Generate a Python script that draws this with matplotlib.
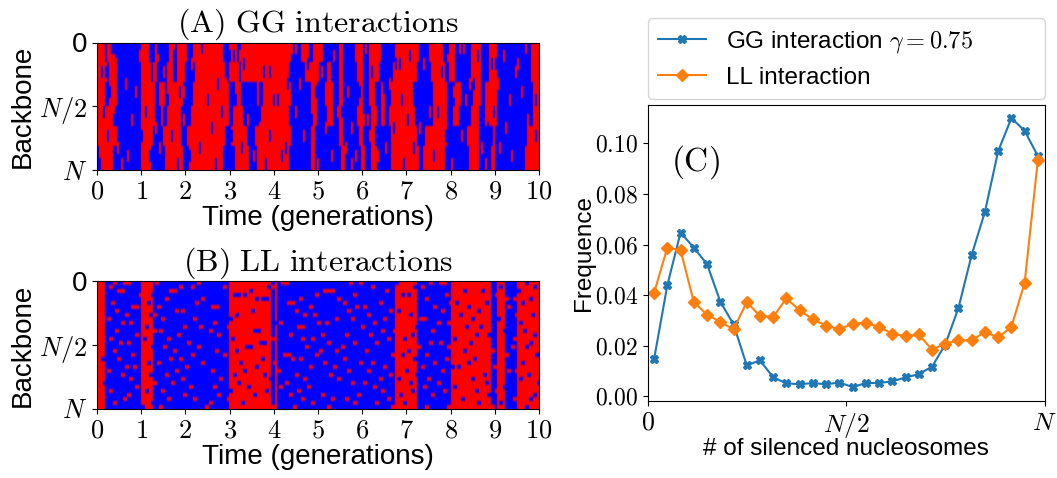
import matplotlib
matplotlib.use("Agg")
import matplotlib.pyplot as plt
import numpy as np
from matplotlib.colors import ListedColormap

plt.rcParams["font.family"] = ["Liberation Sans", "DejaVu Sans"]
plt.rcParams["mathtext.fontset"] = "cm"

W, H = 1057, 478
N_ROWS = 32
N_COLS = 221  # cells per panel, 22.1 per generation

# Panel A: red stretches (generations), six slices down the backbone
A_BAND1 = [(0, .18), (.24, .4), (1, 1.17), (1.3, 1.4), (1.65, 1.76), (1.8, 2.03), (2.18, 2.86),
           (2.97, 3.16), (3.24, 4.37), (4.63, 4.8), (4.87, 5.1), (5.47, 5.55), (5.85, 6.04),
           (6.15, 6.42), (6.72, 7.28), (7.5, 7.85), (7.93, 8.08), (8.45, 8.68), (8.87, 9.06), (9.8, 10)]
A_BAND2 = [(0, .22), (.27, .43), (1, 1.2), (1.26, 1.37), (1.6, 1.72), (1.82, 2.0), (2.2, 2.9),
           (3, 3.2), (3.27, 4.34), (4.7, 4.83), (4.84, 5.03), (5.2, 5.28), (5.47, 5.55), (5.9, 6.04),
           (6.15, 6.36), (6.68, 7.24), (7.55, 7.88), (7.95, 8.1), (8.48, 8.68), (8.85, 9.06), (9.84, 10)]
A_BAND3 = [(0, .2), (.25, .44), (1, 1.3), (1.42, 1.53), (1.6, 1.95), (2.15, 3), (3.1, 3.27),
           (3.6, 3.68), (3.75, 4.37), (4.83, 4.98), (5.17, 5.32), (5.47, 5.55), (5.93, 6.04),
           (6.15, 6.3), (6.42, 6.48), (6.64, 7.17), (7.6, 7.9), (8.1, 8.22), (8.5, 8.68),
           (8.8, 9.06), (9.88, 10)]
A_BAND4 = [(0, .16), (.2, .41), (1, 1.32), (1.45, 1.5), (1.58, 1.92), (2.12, 2.97), (3.06, 3.3),
           (3.7, 4.35), (4.85, 4.96), (5.2, 5.35), (5.47, 5.57), (5.9, 6.04), (6.18, 6.33),
           (6.44, 6.5), (6.62, 7.2), (7.58, 7.92), (8.05, 8.17), (8.45, 8.66), (8.78, 9.04), (9.85, 10)]
A_BAND5 = [(0, .4), (.42, .46), (1, 1.27), (1.5, 1.9), (2.05, 2.9), (3.05, 3.39), (3.58, 4.37), (4.83, 4.95),
           (5.47, 5.57), (5.93, 6.04), (6.2, 6.3), (6.64, 7.25), (7.4, 7.92), (8.38, 8.64),
           (8.95, 9.02), (9.74, 10)]
A_BAND6 = [(.04, .38), (1, 1.22), (1.55, 1.95), (2.1, 2.86), (3.1, 3.42), (3.62, 4.33), (4.85, 4.93),
           (5.5, 5.6), (5.96, 6.06), (6.22, 6.34), (6.67, 7.3), (7.36, 7.88), (8.42, 8.66),
           (8.92, 9), (9.7, 10)]
A_BANDS = [A_BAND1, A_BAND2, A_BAND3, A_BAND4, A_BAND5, A_BAND6]

# Panel B: red stretches, same over the whole backbone
B_RED = [(0, .2), (1, 1.25), (3, 3.95), (4.03, 4.08), (6.74, 7.23), (8, 8.93), (9.04, 9.22), (9.51, 10)]

# cells that differ from their stretch, one list of column indices per row
A_FLECKS = [
    [7, 8, 30, 52, 97, 99, 134, 175, 181, 183, 214],
    [21, 38, 66, 68, 71, 118, 156, 190, 203],
    [9, 47, 73, 105, 149, 151, 163, 197, 199, 210],
    [2, 4, 33, 83, 86, 112, 137, 172, 209],
    [14, 60, 64, 95, 101, 146, 186, 188, 200],
    [6, 19, 41, 43, 109, 125, 131, 178, 212],
    [35, 55, 69, 88, 90, 143, 152, 184, 206, 219],
    [3, 24, 62, 99, 120, 122, 166, 170, 198],
    [8, 17, 43, 75, 107, 133, 135, 155, 215],
    [29, 57, 81, 114, 127, 148, 161, 195, 204],
    [5, 22, 37, 67, 86, 103, 136, 174, 182, 219],
    [10, 31, 51, 72, 94, 124, 144, 158, 192, 201],
    [15, 26, 46, 78, 92, 117, 129, 140, 168, 207],
    [1, 12, 40, 59, 84, 110, 127, 153, 177, 194],
]
B_FLECKS = [
    [8, 13, 15, 29, 50, 92, 94, 126, 131, 149, 166, 171, 173, 214],
    [6, 41, 47, 63, 85, 87, 137, 158, 162, 201, 218],
    [10, 12, 36, 38, 76, 113, 115, 117, 144, 183, 192, 210],
    [21, 27, 68, 70, 73, 109, 128, 152, 155, 174, 199],
    [34, 52, 79, 82, 84, 101, 120, 164, 204, 208, 216],
    [7, 25, 49, 95, 97, 123, 141, 176, 179, 194, 212],
    [17, 19, 30, 57, 59, 106, 129, 133, 168, 185, 205],
    [9, 39, 42, 77, 99, 125, 146, 150, 172, 190],
    [14, 26, 28, 69, 103, 108, 135, 156, 181, 209, 217],
    [5, 32, 48, 66, 119, 127, 143, 161, 163, 187, 200],
    [12, 16, 58, 89, 91, 110, 114, 138, 170, 175, 211],
    [24, 43, 51, 65, 100, 102, 132, 159, 184, 191],
    [9, 28, 31, 56, 78, 80, 142, 148, 167, 203, 213],
    [19, 40, 60, 96, 112, 124, 136, 157, 189, 195, 218],
    [6, 23, 35, 67, 87, 102, 107, 145, 153, 178, 208],
    [11, 15, 45, 81, 83, 115, 128, 139, 166, 171, 186, 216],
    [27, 33, 50, 74, 76, 104, 122, 160, 175, 207, 214],
    [8, 38, 59, 69, 111, 119, 134, 155, 183, 197],
    [17, 47, 63, 93, 95, 109, 147, 152, 164, 204, 219],
    [2, 10, 36, 41, 82, 97, 101, 123, 158, 174, 188],
    [25, 30, 52, 71, 88, 113, 131, 137, 168, 185, 212],
    [14, 18, 44, 79, 106, 118, 143, 162, 177, 180, 198],
    [5, 39, 57, 73, 90, 125, 135, 154, 172, 205, 209],
    [12, 26, 34, 68, 83, 99, 116, 146, 159, 193, 215],
    [16, 42, 61, 86, 103, 120, 141, 150, 165, 187, 211],
    [3, 28, 37, 70, 94, 127, 133, 156, 170, 194, 220],
    [19, 46, 58, 75, 91, 105, 138, 163, 178, 203],
    [6, 24, 32, 66, 84, 100, 142, 157, 173, 189, 199],
    [15, 43, 60, 78, 96, 112, 130, 151, 167, 195, 218],
    [13, 35, 48, 65, 102, 117, 124, 145, 182, 208, 216],
    [8, 27, 56, 72, 107, 128, 139, 153, 190, 201],
    [22, 31, 54, 87, 98, 115, 147, 164, 175, 197, 214],
]

# Panel C: histogram of the silenced nucleosome count, 30 bins
N_BINS = 30
GG_FREQ = [0.0148, 0.0440, 0.0648, 0.0588, 0.0523, 0.0375, 0.0285, 0.0123, 0.0143, 0.0075,
           0.0052, 0.0048, 0.0053, 0.0048, 0.0055, 0.0037, 0.0053, 0.0053, 0.0060, 0.0075,
           0.0088, 0.0118, 0.0205, 0.0350, 0.0560, 0.0730, 0.0970, 0.1100, 0.1050, 0.0950]
LL_FREQ = [0.0410, 0.0588, 0.0578, 0.0373, 0.0323, 0.0295, 0.0265, 0.0373, 0.0318, 0.0315,
           0.0388, 0.0340, 0.0305, 0.0280, 0.0265, 0.0288, 0.0290, 0.0275, 0.0248, 0.0238,
           0.0245, 0.0185, 0.0208, 0.0222, 0.0222, 0.0255, 0.0233, 0.0275, 0.0450, 0.0935]


def axes_px(fig, left, top, right, bottom):
    return fig.add_axes([left / W, 1 - bottom / H, (right - left) / W, (bottom - top) / H])


def build_panel(bands, flecks, span=1, width=1):
    grid = np.zeros((N_ROWS, N_COLS))
    per_gen = N_COLS / 10
    for i, stretches in enumerate(bands):
        top = i * N_ROWS // len(bands)
        bottom = (i + 1) * N_ROWS // len(bands)
        for start, stop in stretches:
            grid[top:bottom, round(start * per_gen):round(stop * per_gen)] = 1
    for i, cols in enumerate(flecks):
        row = i * N_ROWS // len(flecks)
        for col in cols:
            grid[row:row + span, col:col + width] = 1 - grid[row, col]
    return grid


def draw_panel(ax, grid, title):
    ax.imshow(grid, cmap=ListedColormap(["#0000ff", "#ff0000"]), aspect="auto",
              extent=(0, 10, 1, 0), interpolation="antialiased", interpolation_stage="rgba")
    ax.set_xticks(range(11))
    ax.set_xticklabels([f"${i}$" for i in range(11)], fontsize=19)
    ax.set_yticks([0, 0.5, 1])
    ax.set_yticklabels(["0", "$N/2$", "$N$"], fontsize=19)
    ax.get_yticklabels()[0].set_fontsize(20)
    ax.set_xlabel("Time (generations)", fontsize=20, labelpad=1)
    ax.set_ylabel("Backbone", fontsize=20, labelpad=2)
    ax.set_title(title, fontsize=23, pad=4)


fig = plt.figure(figsize=(W / 100, H / 100), dpi=100)

ax_a = axes_px(fig, 97, 42.5, 539, 170)
draw_panel(ax_a, build_panel(A_BANDS, A_FLECKS, span=3, width=1), r"$\mathrm{(A)\ GG\ interactions}$")

ax_b = axes_px(fig, 97, 281, 539, 409)
draw_panel(ax_b, build_panel([B_RED], B_FLECKS, span=1, width=2), r"$\mathrm{(B)\ LL\ interactions}$")

ax_c = axes_px(fig, 647.5, 105, 1044.5, 401)
bins = (np.arange(N_BINS) + 0.5) / N_BINS
ax_c.plot(bins, GG_FREQ, marker="X", markersize=6, linewidth=1.5, color="C0",
          label=r"GG interaction $\gamma=0.75$")
ax_c.plot(bins, LL_FREQ, marker="D", markersize=6, linewidth=1.5, color="C1", label="LL interaction")
ax_c.set_xlim(0, 1)
ax_c.set_ylim(-0.0018, 0.1152)
ax_c.set_xticks([0, 0.5, 1])
ax_c.set_xticklabels(["$0$", "$N/2$", "$N$"], fontsize=18.5)
ax_c.set_yticks([0, 0.02, 0.04, 0.06, 0.08, 0.10])
ax_c.set_yticklabels([f"${v:.2f}$" for v in [0, 0.02, 0.04, 0.06, 0.08, 0.10]], fontsize=17)
ax_c.set_xlabel("# of silenced nucleosomes", fontsize=17.5, labelpad=-1)
ax_c.set_ylabel("Frequence", fontsize=17.5, labelpad=0)
ax_c.text(0.06, 0.78, r"$\mathrm{(C)}$", transform=ax_c.transAxes, fontsize=24)
ax_c.legend(loc="lower left", bbox_to_anchor=(0, 1.02, 1, 0.2), mode="expand", borderaxespad=0,
            fontsize=17.5, handlelength=2.0, borderpad=0.42, labelspacing=0.5)

fig.savefig("out.png", dpi=100)
